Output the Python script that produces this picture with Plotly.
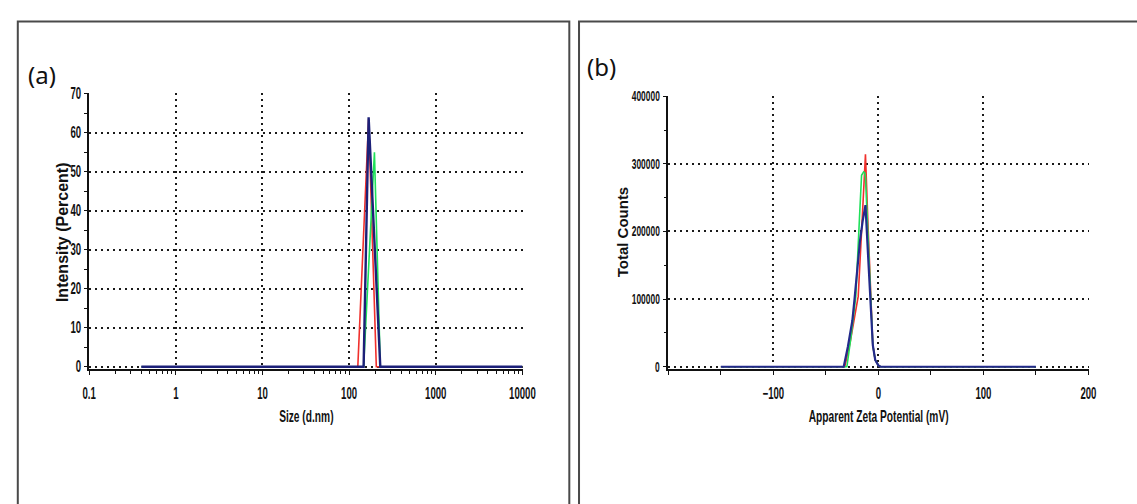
import plotly.graph_objects as go

W, H = 1137, 504

# ---------------- Panel (a): size distribution ----------------
size_red = [0.4, 126, 168, 206, 10000]
int_red = [0, 0, 63.5, 0, 0]
size_green = [0.4, 147, 196, 229, 10000]
int_green = [0, 0, 55, 0, 0]
size_navy = [0.4, 147, 168, 229, 10000]
int_navy = [0, 0, 64, 0, 0]

a_xticks = [0.1, 1, 10, 100, 1000, 10000]
a_xticklabels = ["0.1", "1", "10", "100", "1000", "10000"]
a_yticks = [0, 10, 20, 30, 40, 50, 60, 70]

# ---------------- Panel (b): zeta potential ----------------
zeta_red = [-150, -32, -27, -23, -19.2, -16, -14, -12.3, -10, -7.4, -5.3, -3, 0, 2, 150]
cnt_red = [0, 0, 35000, 68000, 104000, 200000, 262000, 314000, 215000, 99000, 32000, 10000, 2000, 0, 0]
zeta_green = [-150, -30, -26, -21.5, -18, -16, -14, -13, -12.3, -10, -7.4, -5.3, -3, 0, 2, 150]
cnt_green = [0, 0, 45000, 104000, 220000, 283000, 288000, 287000, 280000, 190000, 99000, 32000, 10000, 2000, 0, 0]
zeta_blue = [-150, -33, -29, -24.8, -22.7, -20, -17.6, -15, -12.3, -10, -7.4, -5.3, -3, 0, 2, 150]
cnt_blue = [0, 0, 30000, 68000, 100000, 145000, 185000, 215000, 239000, 170000, 99000, 32000, 10000, 2000, 0, 0]

b_xticks = [-100, 0, 100, 200]
b_yticks = [0, 100000, 200000, 300000, 400000]

RED = "#f0302c"
GREEN = "#1fe05a"
NAVY = "#1c2078"
BLUE = "#232a8c"

FONT = "Liberation Sans, Arial, sans-serif"
GRID = "#1a1a1a"


def dom_from_px(p0, v0, p1, v1, lo, hi, size, vertical):
    """Domain (paper fraction) so that value v0 sits at pixel p0 and v1 at p1."""
    k = (p1 - p0) / (v1 - v0)
    a = p0 + (lo - v0) * k
    b = p0 + (hi - v0) * k
    if vertical:
        return [1 - a / size, 1 - b / size]
    return [a / size, b / size]


# axis ranges (slightly padded so the end gridlines are drawn)
a_xr = [-1, 4.003]
a_yr = [-0.6, 70.2]
b_xr = [-200, 200.6]
b_yr = [-4000, 401000]

fig = go.Figure()
fig.add_trace(go.Scatter(x=size_red, y=int_red, mode="lines", line=dict(color=RED, width=1.6), xaxis="x", yaxis="y"))
fig.add_trace(go.Scatter(x=size_green, y=int_green, mode="lines", line=dict(color=GREEN, width=1.6), xaxis="x", yaxis="y"))
fig.add_trace(go.Scatter(x=size_navy, y=int_navy, mode="lines", line=dict(color=NAVY, width=2.4), xaxis="x", yaxis="y"))

fig.add_trace(go.Scatter(x=zeta_red, y=cnt_red, mode="lines", line=dict(color=RED, width=1.6), xaxis="x2", yaxis="y2"))
fig.add_trace(go.Scatter(x=zeta_green, y=cnt_green, mode="lines", line=dict(color=GREEN, width=1.6), xaxis="x2", yaxis="y2"))
fig.add_trace(go.Scatter(x=zeta_blue, y=cnt_blue, mode="lines", line=dict(color=BLUE, width=2.2), xaxis="x2", yaxis="y2"))

common_axis = dict(
    showline=True, linecolor="#111", linewidth=1.5,
    ticks="outside", ticklen=4, tickcolor="#111", tickwidth=1.2,
    showgrid=True, gridcolor=GRID, gridwidth=1.8, griddash="2px,4px",
    zeroline=False,
    tickfont=dict(family=FONT, size=16, color="#111", weight="bold"),
)


def px_x(p):
    return p / W


def px_y(p):
    return 1 - p / H


fig.update_layout(
    width=W, height=H, autosize=False,
    margin=dict(l=0, r=0, t=0, b=0),
    paper_bgcolor="white", plot_bgcolor="white",
    showlegend=False,
    xaxis=dict(
        common_axis, type="log", range=a_xr,
        domain=dom_from_px(80.5, -1, 526.7, 4, a_xr[0], a_xr[1], W, False), anchor="y",
        tickvals=a_xticks, ticktext=a_xticklabels, ticklabelstandoff=5,
        minor=dict(ticks="outside", ticklen=3, tickcolor="#111", dtick="D1", showgrid=False),
    ),
    yaxis=dict(
        common_axis, range=a_yr,
        domain=dom_from_px(369, 0, 88.3, 70, a_yr[0], a_yr[1], H, True), anchor="x",
        tickvals=a_yticks, ticklen=3,
        minor=dict(ticks="outside", ticklen=3, tickcolor="#111", dtick=5, showgrid=False),
    ),
    xaxis2=dict(
        common_axis, range=b_xr,
        domain=dom_from_px(677, -200, 1109.6, 200, b_xr[0], b_xr[1], W, False), anchor="y2",
        tickvals=b_xticks, ticklabelstandoff=5,
        minor=dict(ticks="outside", ticklen=4, tickcolor="#111", dtick=50, showgrid=False),
    ),
    yaxis2=dict(
        common_axis, range=b_yr,
        domain=dom_from_px(369, 0, 90.7, 400000, b_yr[0], b_yr[1], H, True), anchor="x2",
        tickvals=b_yticks, tickformat="d",
        tickfont=dict(family=FONT, size=14, color="#111", weight="bold"),
        minor=dict(ticks="outside", ticklen=3, tickcolor="#111", dtick=50000, showgrid=False),
    ),
)

# panel frames
box = dict(type="rect", xref="paper", yref="paper", line=dict(color="#4a4a4a", width=2),
           fillcolor="rgba(0,0,0,0)", layer="below")
fig.add_shape(box, x0=px_x(7), x1=px_x(575), y0=-0.1, y1=px_y(14))
fig.add_shape(box, x0=px_x(585), x1=1.05, y0=-0.1, y1=px_y(14))

title_font = dict(family=FONT, size=17, color="#111", weight="bold")
ann = []
ann.append(dict(text="Size (d.nm)", x=px_x(304), y=px_y(420), font=title_font))
ann.append(dict(text="Apparent Zeta Potential (mV)", x=px_x(893.5), y=px_y(420), font=title_font))
ann.append(dict(text="Intensity (Percent)", x=px_x(53), y=px_y(230),
                font=dict(family=FONT, size=16, color="#111", weight="bold"), textangle=-90))
ann.append(dict(text="Total Counts", x=px_x(630), y=px_y(230),
                font=dict(family=FONT, size=15, color="#111", weight="bold"), textangle=-90))
ann.append(dict(text="(a)", x=px_x(32), y=px_y(68), font=dict(family="Noto Sans", size=24, color="#111")))
ann.append(dict(text="(b)", x=px_x(608), y=px_y(60), font=dict(family="Noto Sans", size=24, color="#111")))
for a in ann:
    a.update(xref="paper", yref="paper", showarrow=False, xanchor="center", yanchor="middle")
fig.update_layout(annotations=ann)

# The source figure's lettering is tall and narrow: compress horizontal labels
squeeze_js = """
document.body.style.margin='0px';
document.body.style.overflow='hidden';
(function(){
  var gd = document.getElementById('{plot_id}');
  var F = 0.6;
  var titles = {'Size (d.nm)': 1, 'Apparent Zeta Potential (mV)': 1};
  function sq(){
    var nodes = gd.querySelectorAll('g.xtick text, g.ytick text, g.x2tick text, g.y2tick text, text.annotation-text');
    nodes.forEach(function(t){
      if (t.classList.contains('annotation-text') && !titles[t.textContent]) return;
      t.removeAttribute('textLength');
      var L = t.getComputedTextLength();
      if (L > 0) {
        t.setAttribute('textLength', (L * F).toFixed(2));
        t.setAttribute('lengthAdjust', 'spacingAndGlyphs');
      }
    });
  }
  sq();
  setTimeout(sq, 30);
  if (gd.on) gd.on('plotly_afterplot', sq);
})();
"""

fig.write_html("out.html", config={"displayModeBar": False}, post_script=squeeze_js)
